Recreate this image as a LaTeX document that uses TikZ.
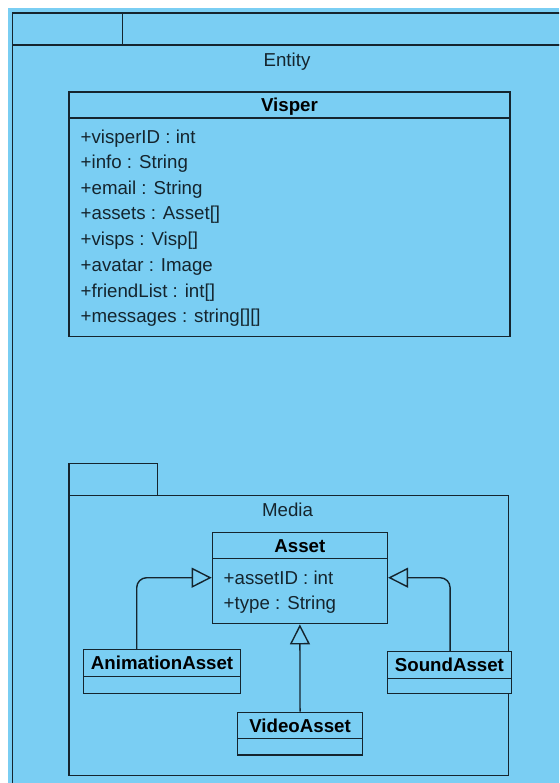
\documentclass[tikz,border=0pt]{standalone}
\usepackage{fontspec}
\setmainfont{Liberation Sans}
\usetikzlibrary{arrows.meta}
\definecolor{bg}{HTML}{7ACEF3}
\definecolor{ln}{HTML}{15252E}
\begin{document}
\begin{tikzpicture}[x=1pt,y=-1pt,
  font=\fontsize{18.7}{22}\selectfont,
  line width=1.4pt,
  box/.style={draw=ln, fill=bg, inner sep=0pt, anchor=north west},
  lbl/.style={inner sep=0pt, text=ln, text height=13.3pt, text depth=0pt},
  attr/.style={inner sep=0pt, anchor=west, text=ln, text height=13.3pt, text depth=0pt},
  title/.style={inner sep=0pt, font=\fontsize{18.7}{22}\selectfont\bfseries, text=black, text height=13.3pt, text depth=0pt},
  gen/.style={draw=ln, rounded corners=10pt, -{Triangle[open, length=20pt, width=20pt, fill=bg]}}]
\useasboundingbox (0,0) rectangle (559,783);
\begin{scope}
\clip (0,0) rectangle (559,783);
\fill[bg] (8,8) rectangle (559,783);
% Entity package
\node[box, minimum width=110.5pt, minimum height=31.8pt] (etab) at (11.5,12.5) {};
\node[box, minimum width=480pt, minimum height=31.8pt] (etop) at (122,12.5) {};
\node[box, minimum width=600pt, minimum height=760pt] (ebody) at (11.5,44.3) {};
\end{scope}
\node[lbl] (elbl) at (287,59.5) {Entity};
% Visper class
\node[box, minimum width=441pt, minimum height=26pt] (vh) at (68.3,91.5) {};
\node[title] (vt) at (vh.center) {Visper};
\node[box, minimum width=441pt, minimum height=218.2pt] (vb) at (68.3,117.5) {};
\node[attr] (v1) at (80,136.7) {+visperID : int};
\node[attr] (v2) at (80,161.9) {+info : String};
\node[attr] (v3) at (80,187.5) {+email : String};
\node[attr] (v4) at (80,213.3) {+assets : Asset[]};
\node[attr] (v5) at (80,239.3) {+visps : Visp[]};
\node[attr] (v6) at (80,265) {+avatar : Image};
\node[attr] (v7) at (80,290.7) {+friendList : int[]};
\node[attr] (v8) at (80,316) {+messages : string[][]};
% Media package
\node[box, minimum width=88.4pt, minimum height=32pt] (mtab) at (68.3,463) {};
\node[box, minimum width=439.7pt, minimum height=280pt] (mbody) at (68.3,495) {};
\node[lbl] (mlbl) at (287.5,509.5) {Media};
% Asset class
\node[box, minimum width=175pt, minimum height=26pt] (ah) at (211.7,532) {};
\node[title] (at) at (ah.center) {Asset};
\node[box, minimum width=175pt, minimum height=65pt] (ab) at (211.7,558) {};
\node[attr] (aid) at (223,577.7) {+assetID : int};
\node[attr] (aty) at (223,603.3) {+type : String};
% AnimationAsset
\node[box, minimum width=157.3pt, minimum height=26.7pt] (anh) at (82.7,649) {};
\node[title] (ant) at (anh.center) {AnimationAsset};
\node[box, minimum width=157.3pt, minimum height=17.3pt] (anb) at (82.7,675.7) {};
% VideoAsset
\node[box, minimum width=124.7pt, minimum height=26.3pt] (vih) at (237,711.7) {};
\node[title] (vit) at (vih.center) {VideoAsset};
\node[box, minimum width=124.7pt, minimum height=16.3pt] (vib) at (237,738) {};
% SoundAsset
\node[box, minimum width=124pt, minimum height=26.7pt] (sh) at (386.7,651) {};
\node[title] (st) at (sh.center) {SoundAsset};
\node[box, minimum width=124pt, minimum height=15.3pt] (sb) at (386.7,677.7) {};
% generalizations
\draw[gen] ([xshift=54pt]anh.north west) |- (ab.west |- aid.center);
\draw[gen] ([xshift=-62pt]sh.north east) |- (ab.east |- aid.center);
\draw[gen] (vih.north) -- (ab.south);
\end{tikzpicture}
\end{document}
